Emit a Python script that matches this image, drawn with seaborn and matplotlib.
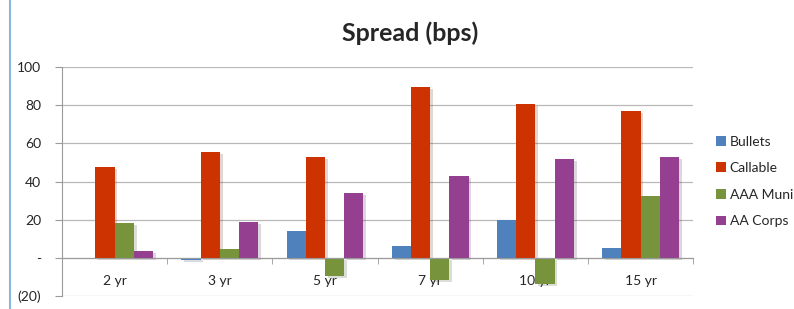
import numpy as np
import pandas as pd
from matplotlib import pyplot as plt
from matplotlib import patheffects as pe
from matplotlib.ticker import FixedLocator
import seaborn as sns

# Spread (bps) by maturity
tenors = ["2 yr", "3 yr", "5 yr", "7 yr", "10 yr", "15 yr"]
bullets = [0, -1, 14, 6, 20, 5]
callable_ = [47.5, 55.6, 53, 89.5, 80.5, 77]
aaa_munis = [18.3, 4.5, -9.3, -11.6, -13.7, 32.4]
aa_corps = [3.8, 18.8, 34.2, 42.8, 51.6, 52.8]

series = ["Bullets", "Callable", "AAA Munis", "AA Corps"]
colors = ["#4F81BD", "#CC3300", "#77933C", "#943F8F"]

df = pd.DataFrame({"tenor": tenors * 4,
                   "series": np.repeat(series, len(tenors)),
                   "spread": bullets + callable_ + aaa_munis + aa_corps})

sns.set_style("white")
plt.rcParams["font.family"] = ["Lato", "DejaVu Sans"]

fig = plt.figure(figsize=(7.94, 3.09), dpi=100)
ax = fig.add_axes([0.078, 0.042, 0.795, 0.741])

sns.barplot(data=df, x="tenor", y="spread", hue="series", order=tenors,
            hue_order=series, palette=colors, width=0.73, saturation=1,
            edgecolor="none", ax=ax, zorder=3)

ax.set_ylim(-20, 100)
ax.set_xlim(-0.5, len(tenors) - 0.5)
ax.set_yticks(range(-20, 101, 20))
ax.set_yticklabels(["(20)", "-", "20", "40", "60", "80", "100"], fontsize=10)
ax.yaxis.grid(True, color="#B8B8B8", linewidth=0.9, zorder=0)
ax.set_axisbelow(True)

for s in ["top", "right"]:
    ax.spines[s].set_visible(False)
ax.spines["left"].set_color("#9A9A9A")
ax.spines["bottom"].set_color("#9A9A9A")
ax.spines["bottom"].set_position(("data", 0))
ax.spines["bottom"].set_zorder(4)

ax.tick_params(axis="y", which="major", left=True, length=5, color="#9A9A9A", pad=10)
ax.tick_params(axis="x", which="major", bottom=False, labelsize=10, pad=9)
ax.xaxis.set_minor_locator(FixedLocator(np.arange(-0.5, len(tenors), 1.0)))
ax.tick_params(axis="x", which="minor", bottom=True, length=4, color="#9A9A9A")
for lbl in ax.get_xticklabels():
    lbl.set_zorder(6)

ax.set_xlabel("")
ax.set_ylabel("")

fig.suptitle("Spread (bps)", x=0.517, y=0.93, fontsize=18, fontweight="bold")

handles, labels = ax.get_legend_handles_labels()
leg = ax.legend(handles, labels, loc="center left", bbox_to_anchor=(0.886, 0.413),
                bbox_transform=fig.transFigure, frameon=False, fontsize=10,
                handlelength=0.7, handleheight=0.7, handletextpad=0.3, labelspacing=1.05)

# soft drop shadow on the bars (not on legend keys)
for p in ax.patches:
    p.set_path_effects([pe.SimplePatchShadow(offset=(2, -1.5), alpha=0.18, rho=0.5), pe.Normal()])

# chart frame edge on the left
fig.add_artist(plt.Line2D([0.012, 0.012], [0, 1], color="#8DB3E2", linewidth=1.5))

fig.savefig("out.png", dpi=100)
